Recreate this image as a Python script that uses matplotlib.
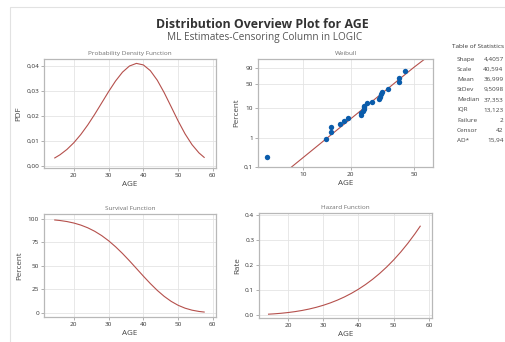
import numpy as np
import matplotlib
matplotlib.use('Agg')
import matplotlib.pyplot as plt
from matplotlib.patches import Rectangle

# values
age = [14.5, 16, 18, 20, 22, 24, 26, 28, 30, 32, 34, 36, 38, 40,
       42, 44, 46, 48, 50, 52, 54, 56, 57.5]
pdf = [0.00322, 0.00448, 0.00662, 0.00932, 0.01260, 0.01642, 0.02068, 0.02521,
       0.02976, 0.03400, 0.03754, 0.04000, 0.04104, 0.04043, 0.03814, 0.03431,
       0.02931, 0.02370, 0.01803, 0.01285, 0.00853, 0.00524, 0.00344]
survival = [98.93, 98.36, 97.26, 95.68, 93.49, 90.60, 86.90, 82.31, 76.81,
            70.42, 63.26, 55.48, 47.35, 39.17, 31.29, 24.02, 17.64, 12.34,
            8.17, 5.09, 2.97, 1.61, 0.97]
hazard = [0.00326, 0.00456, 0.00680, 0.00974, 0.01347, 0.01812, 0.02380,
          0.03063, 0.03875, 0.04827, 0.05934, 0.07210, 0.08668, 0.10322,
          0.12187, 0.14280, 0.16614, 0.19205, 0.22069, 0.25224, 0.28683,
          0.32465, 0.35524]

# Weibull probability plot
obs_age = [5.95, 14.0, 15.0, 15.0, 17.2, 18.1, 19.2, 23.1, 23.2, 23.9, 24.2,
           24.2, 24.3, 25.2, 27.3, 30.2, 30.5, 31.1, 31.4, 34.3, 40.4, 40.4, 43.9]
obs_pct = [0.226, 0.88, 1.56, 2.25, 2.99, 3.68, 4.63, 5.68, 6.96, 7.70, 8.96,
           10.66, 11.77, 13.64, 14.67, 18.2, 21.95, 26.4, 30.1, 36.5, 53.5,
           66.9, 85.3]
fit_age = [8.46, 10, 20, 30, 40, 50, 58.6]
fit_pct = [0.1, 0.2085, 4.32, 23.19, 60.83, 91.83, 99.2]

stat_names = ['Shape', 'Scale', 'Mean', 'StDev', 'Median', 'IQR',
              'Failure', 'Censor', 'AD*']
stat_values = ['4,4057', '40,594', '36,999', '9,5098', '37,353',
               '13,123', '2', '42', '15,94']

LINE = '#b5504c'
DOT = '#0a5cab'
GRID = '#e4e4e4'
FRAME = '#b8b8b8'
FONT = ['Open Sans', 'DejaVu Sans']


def style_axes(ax, title, ylabel):
    ax.set_title(title, fontsize=4.6, color='#707070', pad=3, family=FONT)
    ax.set_xlabel('AGE', fontsize=5.8, color='#444444', labelpad=2, family=FONT)
    ax.set_ylabel(ylabel, fontsize=5.8, color='#444444', labelpad=3, family=FONT)
    ax.grid(True, color=GRID, linewidth=0.6)
    ax.set_axisbelow(True)
    for side in ax.spines.values():
        side.set_color(FRAME)
        side.set_linewidth(0.9)
    ax.tick_params(labelsize=4.6, length=2, width=0.5, color='#909090',
                   labelcolor='#333333', pad=1.5)


def weibull_fwd(p):
    p = np.clip(np.asarray(p, float), 1e-9, 100 - 1e-9)
    return np.log(-np.log(1 - p / 100))


def weibull_inv(t):
    return 100 * (1 - np.exp(-np.exp(np.asarray(t, float))))


def main():
    plt.rcParams['font.family'] = FONT
    fig = plt.figure(figsize=(5.05, 3.42), dpi=100)
    fig.patches.append(Rectangle((9.5 / 505, -0.1), 1.1, 1.1 - 7 / 342,
                                 transform=fig.transFigure, fill=False,
                                 edgecolor='#e2e2e2', linewidth=0.8))

    fig.text(0.519, 0.928, 'Distribution Overview Plot for AGE', ha='center',
             va='center', fontsize=8.9, fontweight='bold', color='#333333')
    fig.text(0.524, 0.890, 'ML Estimates-Censoring Column in LOGIC',
             ha='center', va='center', fontsize=7.2, color='#555555')

    # PDF
    ax1 = fig.add_axes([0.0871, 0.5088, 0.3406, 0.3187])
    ax1.plot(age, pdf, color=LINE, linewidth=0.8)
    ax1.set_xlim(11.4, 60.9)
    ax1.set_ylim(-0.0008, 0.0428)
    ax1.set_xticks([20, 30, 40, 50, 60])
    ax1.set_yticks([0, 0.01, 0.02, 0.03, 0.04])
    ax1.set_yticklabels(['0,00', '0,01', '0,02', '0,03', '0,04'])
    style_axes(ax1, 'Probability Density Function', 'PDF')

    # Weibull probability plot
    ax2 = fig.add_axes([0.5109, 0.5117, 0.3465, 0.3158])
    ax2.set_xscale('log')
    ax2.set_yscale('function', functions=(weibull_fwd, weibull_inv))
    ax2.plot(fit_age, fit_pct, color=LINE, linewidth=0.8)
    ax2.scatter(obs_age, obs_pct, s=15, color=DOT, zorder=3, linewidths=0)
    ax2.set_xlim(5.2, 66)
    ax2.set_ylim(0.1, 99.2)
    ax2.set_xticks([10, 20, 50])
    ax2.set_xticklabels(['10', '20', '50'])
    ax2.xaxis.set_minor_locator(matplotlib.ticker.NullLocator())
    ax2.set_yticks([0.1, 1, 10, 50, 90])
    ax2.set_yticklabels(['0,1', '1', '10', '50', '90'])
    ax2.yaxis.set_minor_locator(matplotlib.ticker.NullLocator())
    style_axes(ax2, 'Weibull', 'Percent')

    # Survival
    ax3 = fig.add_axes([0.0871, 0.0731, 0.3406, 0.3012])
    ax3.plot(age, survival, color=LINE, linewidth=0.8)
    ax3.set_xlim(11.4, 60.9)
    ax3.set_ylim(-4.3, 105.3)
    ax3.set_xticks([20, 30, 40, 50, 60])
    ax3.set_yticks([0, 25, 50, 75, 100])
    style_axes(ax3, 'Survival Function', 'Percent')

    # Hazard
    ax4 = fig.add_axes([0.5129, 0.0702, 0.3426, 0.3070])
    ax4.plot(age, hazard, color=LINE, linewidth=0.8)
    ax4.set_xlim(11.8, 60.85)
    ax4.set_ylim(-0.012, 0.408)
    ax4.set_xticks([20, 30, 40, 50, 60])
    ax4.set_yticks([0, 0.1, 0.2, 0.3, 0.4])
    ax4.set_yticklabels(['0.0', '0.1', '0.2', '0.3', '0.4'])
    style_axes(ax4, 'Hazard Function', 'Rate')

    # table of statistics at the right edge
    fig.text(452 / 505, 1 - 47 / 342, 'Table of Statistics', fontsize=4.6,
             color='#333333', va='center', ha='left')
    for i, (name, value) in enumerate(zip(stat_names, stat_values)):
        y = 1 - (59 + i * 10.2) / 342
        fig.text(457 / 505, y, name, fontsize=4.6, color='#444444',
                 va='center', ha='left')
        fig.text(503.5 / 505, y, value, fontsize=4.6, color='#444444',
                 va='center', ha='right')

    fig.savefig('out.png', dpi=100)


if __name__ == '__main__':
    main()
